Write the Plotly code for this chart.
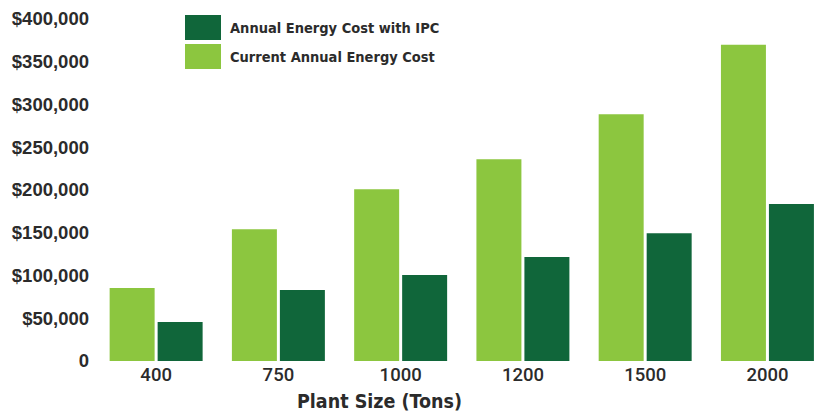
import plotly.graph_objects as go

# ---- data ----
plant_sizes = ["400", "750", "1000", "1200", "1500", "2000"]
current_cost = [85500, 154000, 201000, 236000, 288500, 370000]
ipc_cost = [45600, 83000, 100500, 121500, 149500, 183500]
series_names = ["Current Annual Energy Cost", "Annual Energy Cost with IPC"]
y_tick_vals = [0, 50000, 100000, 150000, 200000, 250000, 300000, 350000, 400000]
y_tick_text = ["0", "$50,000", "$100,000", "$150,000", "$200,000",
               "$250,000", "$300,000", "$350,000", "$400,000"]
x_title = "Plant Size (Tons)"

LIGHT = "#8CC63F"
DARK = "#10663A"
TXT = "#2b2b2b"
NARROW = "Liberation Sans Narrow, DejaVu Sans Condensed, sans-serif"

W, H = 820, 413
ML, MR, MT, MB = 95, 0, 19, 52
PW, PH = W - ML - MR, H - MT - MB

def px(x):
    return (x - ML) / PW

def py(y):
    return (H - MB - y) / PH

fig = go.Figure()
fig.add_trace(go.Bar(x=plant_sizes, y=current_cost, name=series_names[0],
                     marker=dict(color=LIGHT, line=dict(width=0))))
fig.add_trace(go.Bar(x=plant_sizes, y=ipc_cost, name=series_names[1],
                     marker=dict(color=DARK, line=dict(width=0))))

# legend drawn manually (large swatches)
legend_items = [(series_names[1], DARK, 15, 40), (series_names[0], LIGHT, 44, 69)]
shapes = []
annotations = []
for name, col, y0, y1 in legend_items:
    shapes.append(dict(type="rect", xref="paper", yref="paper",
                       x0=px(185), x1=px(221), y0=py(y1), y1=py(y0),
                       fillcolor=col, line=dict(width=0), layer="above"))
    annotations.append(dict(text=name, xref="paper", yref="paper",
                            x=px(228), y=py((y0 + y1) / 2), xanchor="left", yanchor="middle",
                            showarrow=False,
                            font=dict(family=NARROW, size=14.5, color=TXT, weight="bold")))
annotations.append(dict(text=x_title, xref="paper", yref="paper",
                        x=px(379.5), y=py(401), xanchor="center", yanchor="middle",
                        showarrow=False,
                        font=dict(family=NARROW, size=19.5, color=TXT, weight="bold")))

fig.update_layout(
    width=W, height=H,
    margin=dict(l=ML, r=MR, t=MT, b=MB, pad=0),
    paper_bgcolor="white", plot_bgcolor="white",
    barmode="group", bargap=0.215, bargroupgap=0.0625,
    showlegend=False,
    shapes=shapes, annotations=annotations,
    xaxis=dict(type="category", range=[-0.5, 5.43], showgrid=False, zeroline=False,
               showline=False, ticks="", fixedrange=True,
               tickfont=dict(family="Roboto, Liberation Sans, sans-serif", size=18.5,
                             color=TXT, weight=500)),
    yaxis=dict(range=[0, 400000], tickvals=y_tick_vals, ticktext=y_tick_text,
               showgrid=False, zeroline=False, showline=False, ticks="",
               ticklabelstandoff=5,
               tickfont=dict(family="Liberation Sans, Arial, sans-serif", size=18.5,
                             color=TXT, weight="bold")),
)

fig.write_html("out.html")
